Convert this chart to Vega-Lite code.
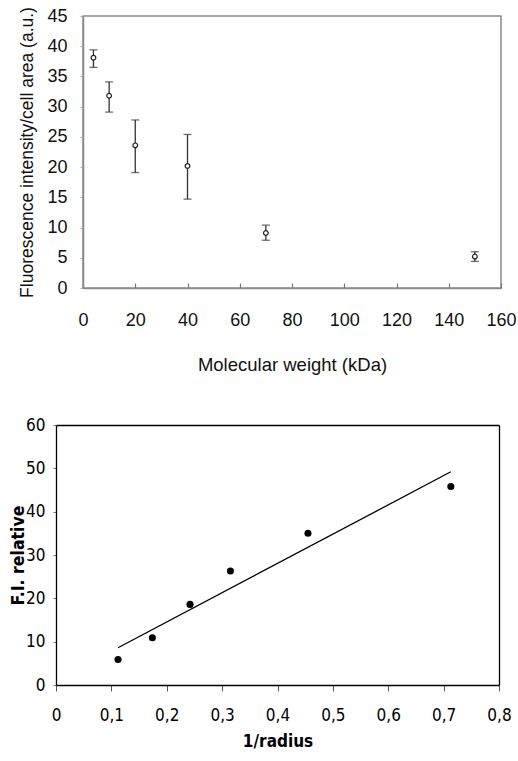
{
  "$schema": "https://vega.github.io/schema/vega-lite/v6.json",
  "background": "white",
  "padding": {"left": 9, "top": 5, "right": 0, "bottom": 0},
  "spacing": 41,
  "config": {
    "axis": {"grid": false, "labelFlush": false, "labelOverlap": false, "titleFontWeight": "normal"}
  },
  "vconcat": [
    {
      "width": 418,
      "height": 272,
      "view": {"stroke": "#8a8a8a", "strokeWidth": 1.5},
      "data": {"values": [
        {"mw": 4, "fi": 38.1, "lo": 36.5, "hi": 39.4},
        {"mw": 10, "fi": 31.8, "lo": 29.1, "hi": 34.1},
        {"mw": 20, "fi": 23.6, "lo": 19.1, "hi": 27.8},
        {"mw": 40, "fi": 20.2, "lo": 14.7, "hi": 25.4},
        {"mw": 70, "fi": 9.1, "lo": 7.9, "hi": 10.4},
        {"mw": 150, "fi": 5.2, "lo": 4.4, "hi": 6.0}
      ]},
      "encoding": {
        "x": {
          "field": "mw", "type": "quantitative",
          "scale": {"domain": [0, 160], "nice": false, "zero": false},
          "axis": {
            "title": "Molecular weight (kDa)",
            "values": [0, 20, 40, 60, 80, 100, 120, 140, 160],
            "domainColor": "#8a8a8a", "domainWidth": 1.5,
            "tickColor": "#777", "tickSize": -5, "tickWidth": 1.2,
            "labelFont": "Liberation Sans", "labelFontSize": 18, "labelColor": "#111", "labelPadding": 28,
            "titleFont": "Liberation Sans", "titleFontSize": 18.5, "titleColor": "#111", "titlePadding": 26
          }
        }
      },
      "layer": [
        {
          "mark": {"type": "rule", "color": "#333", "strokeWidth": 1.3},
          "encoding": {
            "y": {
              "field": "lo", "type": "quantitative", "scale": {"domain": [0, 45], "nice": false},
              "axis": {
                "title": "Fluorescence intensity/cell area (a.u.)",
                "values": [0, 5, 10, 15, 20, 25, 30, 35, 40, 45],
                "domainColor": "#8a8a8a", "domainWidth": 1.5,
                "tickColor": "#aaa", "tickSize": 3,
                "labelFont": "Liberation Sans", "labelFontSize": 18, "labelColor": "#111", "labelPadding": 13,
                "titleFont": "Liberation Sans", "titleFontSize": 17.5, "titleColor": "#111", "titlePadding": 10
              }
            },
            "y2": {"field": "hi"}
          }
        },
        {
          "mark": {"type": "tick", "orient": "horizontal", "size": 8, "thickness": 1.3, "color": "#333"},
          "encoding": {
            "y": {
              "field": "lo", "type": "quantitative",
              "axis": {
                "title": "Fluorescence intensity/cell area (a.u.)",
                "values": [0, 5, 10, 15, 20, 25, 30, 35, 40, 45],
                "domainColor": "#8a8a8a", "domainWidth": 1.5,
                "tickColor": "#aaa", "tickSize": 3,
                "labelFont": "Liberation Sans", "labelFontSize": 18, "labelColor": "#111", "labelPadding": 13,
                "titleFont": "Liberation Sans", "titleFontSize": 17.5, "titleColor": "#111", "titlePadding": 10
              }
            }
          }
        },
        {
          "mark": {"type": "tick", "orient": "horizontal", "size": 8, "thickness": 1.3, "color": "#333"},
          "encoding": {
            "y": {
              "field": "hi", "type": "quantitative",
              "axis": {
                "title": "Fluorescence intensity/cell area (a.u.)",
                "values": [0, 5, 10, 15, 20, 25, 30, 35, 40, 45],
                "domainColor": "#8a8a8a", "domainWidth": 1.5,
                "tickColor": "#aaa", "tickSize": 3,
                "labelFont": "Liberation Sans", "labelFontSize": 18, "labelColor": "#111", "labelPadding": 13,
                "titleFont": "Liberation Sans", "titleFontSize": 17.5, "titleColor": "#111", "titlePadding": 10
              }
            }
          }
        },
        {
          "mark": {"type": "point", "shape": "circle", "size": 22, "filled": true, "fill": "white", "stroke": "#222", "strokeWidth": 1.2, "opacity": 1},
          "encoding": {
            "y": {
              "field": "fi", "type": "quantitative",
              "axis": {
                "title": "Fluorescence intensity/cell area (a.u.)",
                "values": [0, 5, 10, 15, 20, 25, 30, 35, 40, 45],
                "domainColor": "#8a8a8a", "domainWidth": 1.5,
                "tickColor": "#aaa", "tickSize": 3,
                "labelFont": "Liberation Sans", "labelFontSize": 18, "labelColor": "#111", "labelPadding": 13,
                "titleFont": "Liberation Sans", "titleFontSize": 17.5, "titleColor": "#111", "titlePadding": 10
              }
            }
          }
        }
      ]
    },
    {
      "width": 416,
      "height": 260,
      "view": {"stroke": null},
      "resolve": {"axis": {"x": "independent", "y": "independent"}},
      "layer": [
        {
          "data": {"values": [
            {"r": 0.112, "fit": 8.6},
            {"r": 0.713, "fit": 49.2}
          ]},
          "mark": {"type": "line", "color": "#000", "strokeWidth": 1.3},
          "encoding": {
            "x": {
              "field": "r", "type": "quantitative",
              "scale": {"domain": [0, 0.8], "range": [-27, 416], "nice": false, "zero": false},
              "axis": {
                "title": "1/radius",
                "values": [0, 0.1, 0.2, 0.3, 0.4, 0.5, 0.6, 0.7, 0.8],
                "labelExpr": "datum.value == 0 ? '0' : replace(format(datum.value, '.1f'), '.', ',')",
                "domainColor": "#000", "domainWidth": 1.3,
                "tickColor": "#555", "tickSize": 6,
                "labelFont": "Liberation Sans Narrow, DejaVu Sans Condensed, Liberation Sans", "labelFontSize": 17, "labelColor": "#000", "labelPadding": 16,
                "titleFont": "Liberation Sans Narrow, DejaVu Sans Condensed, Liberation Sans", "titleFontSize": 17, "titleFontWeight": "bold", "titleColor": "#000", "titlePadding": 10
              }
            },
            "y": {
              "field": "fit", "type": "quantitative", "scale": {"domain": [0, 60], "nice": false},
              "axis": {
                "title": "F.I. relative",
                "offset": 27,
                "titleX": -29,
                "values": [0, 10, 20, 30, 40, 50, 60],
                "domainColor": "#000", "domainWidth": 1.3,
                "tickColor": "#777", "tickSize": 3,
                "labelFont": "Liberation Sans Narrow, DejaVu Sans Condensed, Liberation Sans", "labelFontSize": 17, "labelColor": "#000", "labelPadding": 8,
                "titleFont": "Liberation Sans Narrow, DejaVu Sans Condensed, Liberation Sans", "titleFontSize": 17.5, "titleFontWeight": "bold", "titleColor": "#000"
              }
            }
          }
        },
        {
          "data": {"values": [
            {"r": 0.112, "fi": 5.9},
            {"r": 0.174, "fi": 10.9},
            {"r": 0.242, "fi": 18.6},
            {"r": 0.315, "fi": 26.3},
            {"r": 0.455, "fi": 35.0},
            {"r": 0.713, "fi": 45.8}
          ]},
          "mark": {"type": "circle", "size": 50, "color": "#000", "opacity": 1},
          "encoding": {
            "x": {
              "field": "r", "type": "quantitative",
              "axis": {"orient": "top", "title": null, "labels": false, "ticks": false, "domainColor": "#000", "domainWidth": 1.3}
            },
            "y": {
              "field": "fi", "type": "quantitative",
              "axis": {"orient": "right", "title": null, "labels": false, "ticks": false, "domainColor": "#000", "domainWidth": 1.3}
            }
          }
        }
      ]
    }
  ]
}
